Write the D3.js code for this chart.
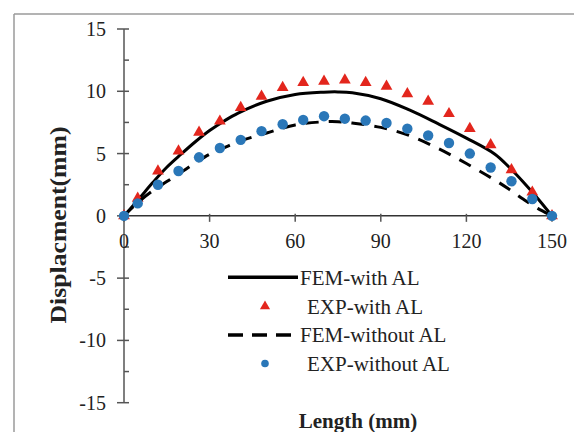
<!DOCTYPE html>
<html>
<head>
<meta charset="utf-8">
<script src="https://cdn.jsdelivr.net/npm/d3@7"></script>
<style>
  html, body { margin: 0; padding: 0; background: #fff; }
  svg { display: block; }
  text { font-family: "Liberation Serif", "Times New Roman", serif; fill: #222; }
</style>
</head>
<body>
<svg id="chart" width="574" height="432"></svg>
<script>
// Sample positions along the beam (mm) for measured points
const expPositions = [0, 4.8, 11.9, 19.1, 26.3, 33.6, 40.9, 48.2, 55.6, 62.8, 70.1, 77.4, 84.7, 92.0, 99.3, 106.6, 113.9, 121.2, 128.5, 135.8, 143.1, 150];
const expWithAL    = [0, 1.4, 3.6, 5.2, 6.7, 7.6, 8.7, 9.6, 10.3, 10.7, 10.8, 10.9, 10.7, 10.4, 9.8, 9.2, 8.2, 7.0, 5.7, 3.7, 1.9, 0];
const expWithoutAL = [0, 1.0, 2.5, 3.6, 4.7, 5.45, 6.1, 6.8, 7.35, 7.7, 8.0, 7.8, 7.65, 7.45, 7.0, 6.45, 5.85, 5.0, 3.88, 2.78, 1.35, 0];

// FEM deflection curves
const femPositions = [0, 5, 10, 15, 20, 25, 30, 35, 40, 50, 60, 70, 75, 80, 90, 100, 110, 120, 130, 135, 140, 145, 150];
const femWithAL    = [0, 1.3, 2.65, 3.9, 4.95, 5.95, 6.85, 7.6, 8.25, 9.2, 9.75, 9.93, 9.95, 9.88, 9.4, 8.5, 7.4, 6.24, 4.95, 3.9, 2.7, 1.4, 0];
const femWithoutAL = [0, 1.1, 2.0, 2.75, 3.5, 4.25, 4.95, 5.46, 5.95, 6.65, 7.3, 7.55, 7.56, 7.45, 7.1, 6.45, 5.42, 4.2, 2.87, 2.13, 1.33, 0.6, 0];

const xTickValues = [0, 30, 60, 90, 120, 150];
const yTickValues = [-15, -10, -5, 0, 5, 10, 15];
const yMinorValues = [-12.5, -7.5, -2.5, 2.5, 7.5, 12.5];

const legendLabels = ["FEM-with AL", "EXP-with AL", "FEM-without AL", "EXP-without AL"];

const RED = "#e3261d";
const BLUE = "#2a77b8";
const AXIS = "#555";

const svg = d3.select("#chart");

// outer frame (top and left edges)
svg.append("line").attr("x1", 14).attr("x2", 574).attr("y1", 14).attr("y2", 14)
  .attr("stroke", "#9a9a9a").attr("stroke-width", 1.5);
svg.append("line").attr("x1", 14).attr("x2", 14).attr("y1", 14).attr("y2", 432)
  .attr("stroke", "#9a9a9a").attr("stroke-width", 1.5);

const x = d3.scaleLinear().domain([0, 150]).range([124, 552]);
const y = d3.scaleLinear().domain([-15, 15]).range([402.7, 29]);

// y axis: line + major ticks crossing + minor ticks inside
const yAxis = svg.append("g");
yAxis.append("line").attr("x1", x(0)).attr("x2", x(0)).attr("y1", y(15)).attr("y2", y(-15))
  .attr("stroke", AXIS).attr("stroke-width", 1.5);
yAxis.selectAll(".ymaj").data(yTickValues).join("line")
  .attr("x1", x(0) - 7).attr("x2", x(0) + 5)
  .attr("y1", d => y(d)).attr("y2", d => y(d))
  .attr("stroke", AXIS).attr("stroke-width", 1.5);
yAxis.selectAll(".ymin").data(yMinorValues).join("line")
  .attr("x1", x(0)).attr("x2", x(0) + 5)
  .attr("y1", d => y(d)).attr("y2", d => y(d))
  .attr("stroke", AXIS).attr("stroke-width", 1.5);
yAxis.selectAll(".ylab").data(yTickValues).join("text")
  .attr("x", 106).attr("y", d => y(d)).attr("dy", "0.35em")
  .attr("text-anchor", "end").attr("font-size", 20)
  .text(d => d);

// x axis at zero displacement
const xAxis = svg.append("g");
xAxis.append("line").attr("x1", x(0)).attr("x2", x(150)).attr("y1", y(0)).attr("y2", y(0))
  .attr("stroke", "#333").attr("stroke-width", 1.5);
xAxis.selectAll(".xmaj").data(xTickValues).join("line")
  .attr("x1", d => x(d)).attr("x2", d => x(d))
  .attr("y1", y(0) - 2).attr("y2", y(0) + 6)
  .attr("stroke", AXIS).attr("stroke-width", 1.5);
xAxis.selectAll(".xlab").data(xTickValues).join("text")
  .attr("x", d => x(d)).attr("y", y(0) + 25).attr("dy", "0.35em")
  .attr("text-anchor", "middle").attr("font-size", 20)
  .text(d => d);

// axis titles
svg.append("text")
  .attr("transform", "translate(66,225) rotate(-90)")
  .attr("text-anchor", "middle").attr("font-size", 23).attr("font-weight", "bold")
  .attr("textLength", 197).attr("lengthAdjust", "spacingAndGlyphs")
  .text("Displacment(mm)");
svg.append("text")
  .attr("x", 358).attr("y", 428)
  .attr("text-anchor", "middle").attr("font-size", 21).attr("font-weight", "bold")
  .text("Length (mm)");

// series
const line = d3.line().x(d => x(d[0])).y(d => y(d[1])).curve(d3.curveCatmullRom.alpha(0.5));
const femWithPts = femPositions.map((p, i) => [p, femWithAL[i]]);
const femWithoutPts = femPositions.map((p, i) => [p, femWithoutAL[i]]);

svg.append("path").datum(femWithPts).attr("d", line)
  .attr("fill", "none").attr("stroke", "#000").attr("stroke-width", 3);

const tri = d3.symbol().type(d3.symbolTriangle).size(60);
svg.append("g").selectAll("path").data(expPositions.map((p, i) => [p, expWithAL[i]])).join("path")
  .attr("d", tri)
  .attr("transform", d => `translate(${x(d[0])},${y(d[1])})`)
  .attr("fill", RED);

svg.append("path").datum(femWithoutPts).attr("d", line)
  .attr("fill", "none").attr("stroke", "#000").attr("stroke-width", 3)
  .attr("stroke-dasharray", "13,10");

svg.append("g").selectAll("circle").data(expPositions.map((p, i) => [p, expWithoutAL[i]])).join("circle")
  .attr("cx", d => x(d[0])).attr("cy", d => y(d[1])).attr("r", 5.2)
  .attr("fill", BLUE);

// legend
const legend = svg.append("g");
const rowY = [277.3, 306.3, 335, 363.5];
const lx0 = 228, lx1 = 298, lmid = 265;

legend.append("line").attr("x1", lx0).attr("x2", lx1).attr("y1", rowY[0]).attr("y2", rowY[0])
  .attr("stroke", "#000").attr("stroke-width", 3.5);
legend.append("path").attr("d", d3.symbol().type(d3.symbolTriangle).size(45))
  .attr("transform", `translate(${lmid},${rowY[1]})`).attr("fill", RED);
legend.append("line").attr("x1", lx0).attr("x2", lx1).attr("y1", rowY[2]).attr("y2", rowY[2])
  .attr("stroke", "#000").attr("stroke-width", 3.5).attr("stroke-dasharray", "15,9");
legend.append("circle").attr("cx", lmid).attr("cy", rowY[3]).attr("r", 3.8).attr("fill", BLUE);

const textX = [300, 307, 300, 307];
legend.selectAll("text").data(legendLabels).join("text")
  .attr("x", (d, i) => textX[i]).attr("y", (d, i) => rowY[i]).attr("dy", "0.35em")
  .attr("font-size", 21)
  .text(d => d);
</script>
</body>
</html>
